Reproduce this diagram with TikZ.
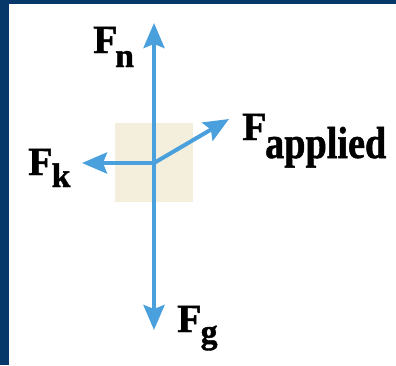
\documentclass[tikz,border=0pt]{standalone}
\usepackage{fontspec}
\usepackage{graphicx}
\setmainfont{Liberation Serif}
\newfontfamily\labfont[BoldFeatures={FakeBold=1.2}]{Liberation Serif}
\usetikzlibrary{arrows.meta}
\definecolor{navy}{RGB}{7,56,106}
\definecolor{boxbeige}{RGB}{243,239,220}
\definecolor{forceblue}{RGB}{74,160,220}
\newcommand{\bigF}{{\fontsize{40}{40}\selectfont\labfont\bfseries F}}
\newcommand{\subtxt}[1]{{\fontsize{34}{34}\selectfont\labfont\bfseries #1}}
\begin{document}
\begin{tikzpicture}[x=1pt,y=1pt,
  force/.style={draw=forceblue,line width=4pt,line cap=round,
    -{Stealth[length=25pt,width=21pt,inset=4pt]}},
  flabel/.style={inner sep=0pt,anchor=base west,text=black}]
\useasboundingbox (0,0) rectangle (396,-365);
\fill[navy] (0,0) rectangle (396,-365);
\fill[white] (8.7,-3.7) rectangle (396,-365);
\fill[boxbeige] (115,-123) rectangle (193,-202);
\coordinate (c) at (154,-163);
\coordinate (up) at (154,-23);
\coordinate (down) at (154,-330);
\coordinate (left) at (82,-163);
\coordinate (app) at (229,-119);
\draw[force] (c) -- (up);
\draw[force] (c) -- (down);
\draw[force] (c) -- (left);
\draw[force] (c) -- (app);
\node[flabel] (Fn) at (93,-53) {\bigF\kern-2.5pt\raisebox{-14pt}{\subtxt{n}}};
\node[flabel] (Fk) at (28,-175) {\bigF\kern-1pt\raisebox{-12pt}{\subtxt{k}}};
\node[flabel] (Fg) at (177,-332) {\bigF\kern-1pt\raisebox{-11pt}{\subtxt{g}}};
\node[flabel] (Fa) at (242,-140) {\bigF\kern-1.5pt\raisebox{-18pt}{\scalebox{0.85}[1]{\fontsize{45}{45}\selectfont\labfont\bfseries applied}}};
\end{tikzpicture}
\end{document}
